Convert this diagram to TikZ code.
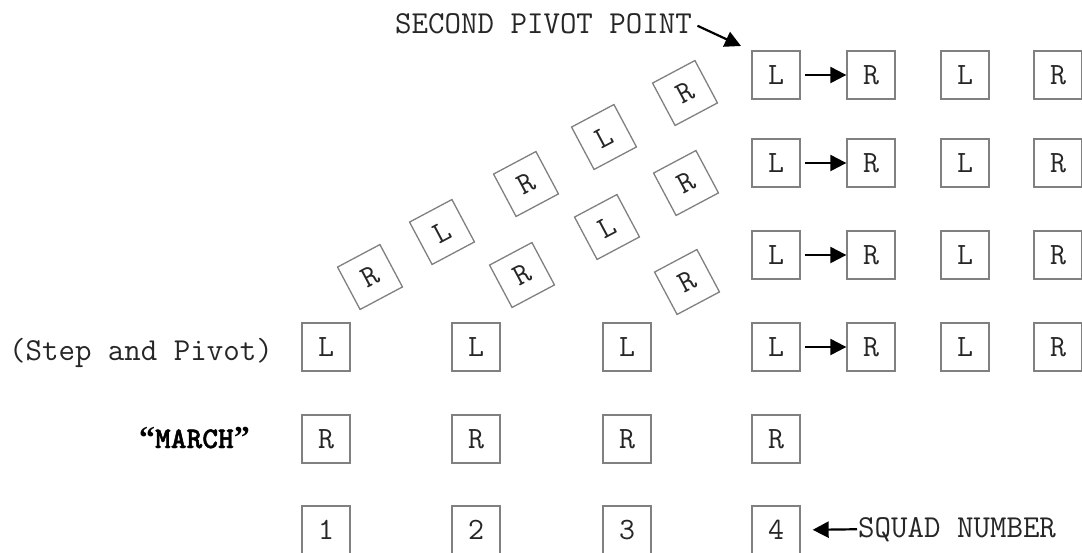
\documentclass[tikz,border=0pt]{standalone}
\usepackage{fontspec}
\newfontfamily\marchfont{Latin Modern Mono Light}[BoldFeatures={FakeBold=1.5}]
\newfontfamily\quotefont{Liberation Serif}
\usetikzlibrary{arrows.meta}
\begin{document}
\begin{tikzpicture}[x=1pt,y=-1pt,
  box/.style={draw=black!50, line width=1.3pt, minimum size=48pt, inner sep=0pt,
    font=\ttfamily\fontsize{31}{31}\selectfont, text=black!85},
  tbox/.style={box, rotate=28},
  lbl/.style={font=\ttfamily\fontsize{32}{32}\selectfont, text=black!85, inner sep=0pt},
  arr/.style={line width=2.2pt, -{Triangle[length=16pt,width=16pt]}}]
\useasboundingbox (0,0) rectangle (1082,552);

% labels
\node[lbl, anchor=base west] (spp) at (395,33) {SECOND PIVOT POINT};
\node[lbl, anchor=base east] (sap) at (273,360) {(Step and Pivot)};
\node[lbl, anchor=base east, text=black, font=\marchfont\bfseries\fontsize{30}{30}\selectfont] (mar) at (250,448) {{\quotefont\bfseries\fontsize{32}{32}\selectfont “}MARCH{\quotefont\bfseries\fontsize{32}{32}\selectfont ”}};
\node[lbl, anchor=base west] (sq) at (858,537) {SQUAD NUMBER};

% squad numbers
\node[box] (n1) at (326,530) {1};
\node[box] (n2) at (476,530) {2};
\node[box] (n3) at (627,530) {3};
\node[box] (n4) at (776,530) {4};

% march row
\node[box] (m1) at (326,439) {R};
\node[box] (m2) at (476,439) {R};
\node[box] (m3) at (627,439) {R};
\node[box] (m4) at (776,439) {R};

% step and pivot row
\node[box] (p1) at (326,347) {L};
\node[box] (p2) at (476,347) {L};
\node[box] (p3) at (627,347) {L};
\node[box] (p4) at (776,347) {L};

% rotated chains
\node[tbox] (a1) at (370,277) {R};
\node[tbox] (a2) at (442,232) {L};
\node[tbox] (a3) at (526,184) {R};
\node[tbox] (a4) at (604,137) {L};
\node[tbox] (a5) at (685,93) {R};

\node[tbox] (b1) at (522,275) {R};
\node[tbox] (b2) at (607,227) {L};
\node[tbox] (b3) at (686,183) {R};

\node[tbox] (c1) at (687,282) {R};

% right block
\foreach \r/\y in {1/75,2/163,3/255,4/347}{
  \ifnum\r<4
    \node[box] (L\r) at (776,\y) {L};
  \fi
  \node[box] (R\r) at (871,\y) {R};
  \node[box] (LL\r) at (965,\y) {L};
  \node[box] (RR\r) at (1058,\y) {R};
}

\draw[arr, shorten <=4pt] (L1.east) -- (R1.west);
\draw[arr, shorten <=4pt] (L2.east) -- (R2.west);
\draw[arr, shorten <=4pt] (L3.east) -- (R3.west);
\draw[arr, shorten <=4pt] (p4.east) -- (R4.west);

% pointer arrows
\coordinate (pivtip) at (741,46);
\draw[arr, shorten <=6pt] (spp.east) -- (pivtip);
\draw[arr, shorten <=1pt, shorten >=12pt] (sq.west) -- (n4.east);
\end{tikzpicture}
\end{document}
